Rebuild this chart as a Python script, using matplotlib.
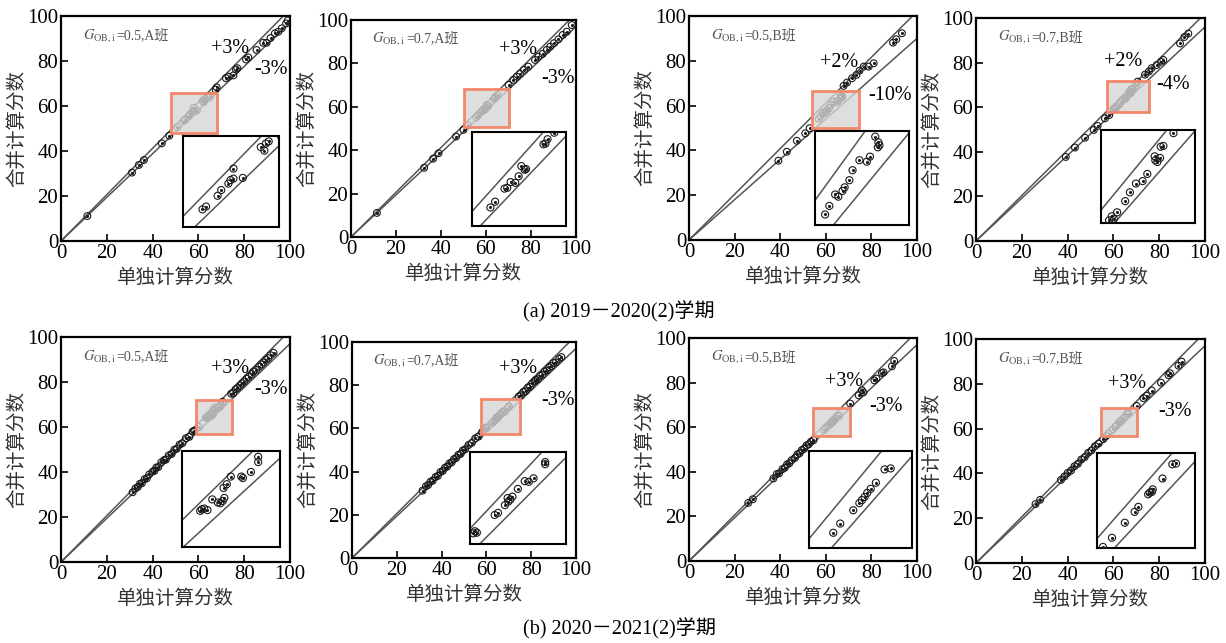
import numpy as np
import matplotlib
matplotlib.use("Agg")
import matplotlib.pyplot as plt
from matplotlib.patches import Rectangle

plt.rcParams['font.family'] = ['Liberation Serif', 'Noto Sans CJK SC']
plt.rcParams['mathtext.fontset'] = 'stix'

# ---- data ----
gob_vals = ['0.5', '0.7', '0.5', '0.7', '0.5', '0.7', '0.5', '0.7']
classes = ['A', 'A', 'B', 'B', 'A', 'A', 'B', 'B']
upper_pct = [3, 3, 2, 2, 3, 3, 3, 3]
lower_pct = [3, 3, 10, 4, 3, 3, 3, 3]
captions = ['(a) 2019－2020(2)学期', '(b) 2020－2021(2)学期']

a05A_x = [11.5, 31.0, 34.0, 36.2, 44.0, 47.3, 50.8, 53.7, 54.2, 55.8, 56.3, 57.3, 57.6, 58.0, 58.0, 59.3,
          61.8, 62.3, 62.5, 62.9, 64.6, 65.2, 67.5, 68.0, 72.0, 73.2, 75.3, 76.4, 77.0, 80.8, 81.8, 85.4,
          88.3, 89.8, 91.5, 93.4, 94.9, 96.4, 98.3, 99.0]
a05A_y = [11.1, 30.4, 33.8, 36.0, 43.4, 46.8, 50.6, 53.5, 53.9, 55.4, 56.2, 57.1, 57.6, 57.8, 59.2, 57.9,
          62.2, 61.7, 62.7, 63.0, 63.7, 64.5, 67.3, 68.3, 72.4, 73.0, 73.6, 76.2, 76.8, 80.7, 81.6, 84.9,
          88.1, 88.1, 90.2, 92.3, 93.0, 94.5, 96.7, 98.0]

a07A_x = [11.5, 32.5, 36.5, 38.9, 46.7, 50.0, 52.0, 55.7, 56.4, 57.8, 58.2, 58.7, 59.4, 59.9, 60.3, 60.8,
          61.0, 63.6, 63.9, 64.2, 65.2, 70.0, 72.2, 73.7, 75.1, 76.9, 78.8, 81.8, 83.3, 85.2, 87.0, 88.5,
          90.2, 92.2, 94.1, 95.9, 98.1]
a07A_y = [11.1, 31.9, 36.1, 38.6, 46.3, 49.4, 51.5, 55.1, 55.9, 57.7, 57.8, 58.6, 58.5, 59.4, 60.8, 60.3,
          60.4, 63.8, 63.9, 64.5, 65.4, 70.1, 72.4, 73.9, 75.2, 77.0, 78.5, 81.6, 83.1, 84.4, 86.2, 87.7,
          89.3, 91.1, 93.1, 94.6, 97.7]

a05B_x = [39.2, 42.9, 47.3, 51.0, 52.9, 56.9, 57.7, 58.8, 59.4, 60.2, 60.6, 61.5, 62.1, 63.4, 64.8, 65.4,
          66.4, 67.0, 66.9, 67.2, 67.8, 69.3, 71.5, 73.4, 74.8, 76.6, 78.8, 81.0, 89.5, 90.9, 93.4]
a05B_y = [35.4, 39.4, 44.3, 47.6, 49.9, 54.1, 55.3, 56.9, 56.6, 57.4, 57.9, 58.9, 60.3, 61.7, 61.5, 62.2,
          65.0, 64.2, 63.5, 63.8, 68.8, 70.3, 72.2, 73.7, 75.6, 77.4, 77.4, 78.9, 88.1, 89.6, 92.3]

a07B_x = [39.2, 43.2, 47.6, 51.4, 53.1, 56.3, 58.2, 60.2, 60.6, 60.9, 61.4, 62.6, 63.3, 64.2, 65.2, 65.9,
          67.0, 67.1, 67.4, 67.8, 67.9, 68.3, 69.8, 70.6, 73.8, 75.5, 76.7, 78.9, 80.8, 81.8, 89.1, 91.0, 92.7]
a07B_y = [37.7, 41.9, 46.3, 49.8, 51.6, 55.0, 56.5, 58.9, 59.4, 59.1, 59.9, 61.3, 62.4, 63.5, 63.8, 64.7,
          66.9, 66.4, 66.2, 66.7, 68.1, 68.2, 69.8, 71.5, 74.6, 76.0, 77.5, 78.9, 80.4, 81.2, 88.6, 91.5, 93.0]

b05A_x = [31.3, 32.5, 33.5, 34.5, 35.3, 36.5, 37.5, 38.5, 40.0, 40.8, 41.6, 42.5, 43.8, 45.0, 45.8, 47.0,
          48.3, 49.5, 50.5, 51.8, 53.0, 54.5, 56.0, 57.5, 58.2, 60.3,
          63.3, 63.5, 63.8, 64.2, 64.8, 65.5, 65.8, 66.1, 66.3, 66.2, 66.6, 67.1, 68.4, 68.6, 69.6, 70.5, 70.5,
          74.3, 75.2, 76.3, 77.0, 78.2, 79.0, 80.0, 81.0, 82.0, 83.3, 84.0, 85.2, 86.5, 87.5, 88.5, 89.5,
          90.5, 91.5, 92.8]
b05A_y = [31.0, 32.7, 33.3, 34.8, 35.0, 36.8, 37.2, 38.9, 40.2, 40.5, 42.0, 42.2, 44.3, 45.3, 45.5, 47.4,
          48.0, 49.9, 50.3, 52.2, 52.8, 55.0, 55.6, 58.0, 58.4, 60.0,
          64.1, 64.3, 64.4, 64.2, 65.6, 65.2, 65.1, 65.4, 65.8, 67.1, 67.6, 68.6, 68.6, 68.4, 69.2, 71.2, 70.5,
          74.8, 75.0, 76.8, 77.3, 78.5, 79.4, 80.2, 81.5, 82.3, 83.5, 84.6, 85.4, 86.8, 87.8, 88.7, 89.9,
          90.6, 91.9, 93.0]

b07A_x = [31.5, 33.0, 34.0, 35.0, 36.0, 37.3, 38.3, 39.5, 40.5, 41.5, 42.5, 43.5, 44.5, 45.5, 46.5, 47.5,
          48.5, 49.5, 50.5, 52.0, 53.5, 55.0, 56.5, 58.0,
          59.5, 59.7, 60.0, 62.6, 63.1, 64.1, 64.6, 64.5, 64.9, 65.2, 66.0, 67.0, 67.6, 68.3, 70.0, 70.0,
          74.5, 75.5, 76.5, 77.5, 78.5, 79.5, 80.5, 81.5, 82.0, 83.0, 84.0, 85.0, 86.0, 87.0, 88.0, 89.0,
          90.0, 91.0, 92.5, 93.5]
b07A_y = [31.2, 33.2, 33.8, 35.3, 35.8, 37.5, 38.0, 39.8, 40.3, 41.8, 42.3, 43.8, 44.3, 45.8, 46.3, 47.8,
          48.2, 49.8, 50.3, 52.3, 53.3, 55.4, 56.2, 58.2,
          60.1, 60.4, 60.2, 62.7, 63.0, 64.1, 64.6, 65.1, 64.9, 65.3, 66.4, 67.5, 67.4, 67.9, 69.9, 70.2,
          74.8, 75.3, 76.9, 77.2, 78.9, 79.2, 80.9, 81.8, 82.5, 82.8, 84.4, 84.8, 86.4, 86.8, 88.3, 88.8,
          90.3, 90.6, 92.2, 93.0]

b05B_x = [26.0, 28.0, 37.0, 38.5, 39.5, 41.0, 42.0, 43.0, 44.0, 45.0, 46.5, 47.5, 48.5, 49.5, 50.5, 51.5,
          52.5, 53.5, 54.6, 59.3, 60.1, 61.6, 62.3, 62.6, 62.9, 63.2, 63.6, 64.2, 65.2, 65.9,
          70.7, 74.4, 75.8, 76.5, 81.3, 82.2, 84.6, 85.3, 89.0, 90.0]
b05B_y = [26.1, 27.7, 37.0, 39.0, 39.3, 41.2, 41.8, 43.3, 43.8, 45.2, 46.3, 47.8, 48.3, 49.8, 50.3, 51.8,
          52.3, 53.5, 54.2, 58.8, 59.7, 61.0, 61.7, 62.0, 62.3, 62.7, 63.1, 63.7, 65.0, 65.1,
          70.6, 74.3, 76.6, 75.6, 81.0, 81.8, 84.3, 84.6, 87.3, 89.7]

b07B_x = [26.0, 28.0, 37.1, 38.6, 40.0, 41.5, 43.0, 44.5, 46.0, 47.5, 49.0, 50.5, 52.0, 53.5, 55.6,
          56.8, 58.0, 59.7, 61.0, 61.5, 62.8, 63.0, 63.3, 63.4, 64.7, 66.0, 66.5,
          70.2, 73.1, 74.5, 76.7, 80.8, 84.0, 84.7, 88.4, 89.8]
b07B_y = [26.3, 28.2, 37.1, 38.6, 40.2, 41.3, 43.2, 44.3, 46.2, 47.3, 49.2, 50.3, 52.2, 53.3, 55.3,
          56.7, 57.8, 59.6, 60.9, 61.5, 63.0, 63.2, 63.3, 63.6, 64.9, 66.6, 66.7,
          70.1, 73.6, 74.7, 77.0, 80.5, 83.9, 84.7, 88.1, 89.9]

series_x = [a05A_x, a07A_x, a05B_x, a07B_x, b05A_x, b07A_x, b05B_x, b07B_x]
series_y = [a05A_y, a07A_y, a05B_y, a07B_y, b05A_y, b07A_y, b05B_y, b07B_y]

# ---- layout (pixels of a 1226x643 canvas) ----
W, H = 1226, 643
axes_px = [(61, 16, 290, 241), (351, 20, 576, 237), (689, 16, 917, 240), (976, 18, 1205, 241),
           (61, 337, 290, 562), (352, 342, 576, 558), (689, 338, 917, 561), (976, 339, 1205, 563)]
inset_box = [(0.533, 0.061, 0.418, 0.404), (0.539, 0.049, 0.418, 0.435), (0.553, 0.066, 0.412, 0.421),
             (0.546, 0.082, 0.410, 0.416), (0.527, 0.068, 0.429, 0.427), (0.527, 0.065, 0.427, 0.425),
             (0.526, 0.058, 0.450, 0.435), (0.528, 0.068, 0.428, 0.421)]
inset_win = [((51, 64.3), (51, 63.7)), ((53, 67), (52.5, 65.5)), ((55, 72.8), (52.6, 65.8)),
             ((59, 73), (58.6, 70.2)), ((61, 73.2), (59.4, 72)), ((59, 73), (58.6, 71.6)),
             ((56.5, 68.3), (57.3, 66.8)), ((56, 69), (56.6, 67.9))]
rects = [(48, 48, 20, 18), (50, 50.5, 20, 17.5), (53.9, 50.1, 20.5, 16.6), (57.1, 57.7, 18.6, 14),
         (59, 56.8, 15.5, 15.3), (57.8, 57.4, 17.2, 16.4), (54.2, 56, 16.2, 12.7), (54.6, 56.7, 15.6, 12.4)]
up_pos = [(73.8, 85.6), (74.4, 86.2), (66, 79.2), (64.3, 80.4), (73.8, 86.2), (74.2, 87.7), (67.8, 80.3), (65.8, 80.2)]
lo_pos = [(91.6, 76), (92.2, 73.2), (88.3, 64.6), (86.2, 70), (91.6, 76.5), (92.1, 73.1), (86.5, 69.1), (86.9, 67.6)]

LINE_C = '#555555'
PT_C = '#1a1a1a'


def draw_points(a, x, y, s=24):
    a.scatter(x, y, s=s, facecolors='none', edgecolors=PT_C, linewidths=0.8, zorder=3)
    a.scatter(x, y, s=1.5, color=PT_C, zorder=4)


def draw_lines(a, up, lo):
    xs = np.array([0, 100])
    a.plot(xs, xs * (1 + up / 100), color=LINE_C, lw=1.1, zorder=2)
    a.plot(xs, xs * (1 - lo / 100), color=LINE_C, lw=1.1, zorder=2)


fig = plt.figure(figsize=(12.26, 6.43), dpi=100)

for i in range(8):
    l, t, r, b = axes_px[i]
    ax = fig.add_axes([l / W, 1 - b / H, (r - l) / W, (b - t) / H])
    ax.set_xlim(0, 100)
    ax.set_ylim(0, 100)
    up, lo = upper_pct[i], lower_pct[i]
    draw_lines(ax, up, lo)
    draw_points(ax, series_x[i], series_y[i])

    rx, ry, rw, rh = rects[i]
    ax.add_patch(Rectangle((rx, ry), rw, rh, facecolor=(0.84, 0.84, 0.84, 0.8),
                           edgecolor='#f2876b', lw=2, zorder=5))

    ax.text(*up_pos[i], f'+{up}%', fontsize=14.5, ha='center', va='center', zorder=6)
    ax.text(*lo_pos[i], f'-{lo}%', fontsize=14.5, ha='center', va='center', zorder=6)
    g = ax.text(9.5, 91.5, r'$G_{\rm OB,i}$', fontsize=10.5, color='#555555', ha='left', va='center')
    ax.annotate(f'={gob_vals[i]},{classes[i]}班', xy=(1, 0.5), xycoords=g, fontsize=10,
                color='#555555', ha='left', va='center')

    ax.set_xticks(range(0, 101, 20))
    ax.set_yticks(range(0, 101, 20))
    ax.tick_params(direction='in', length=5, width=1.2, labelsize=15, top=False, right=False, pad=2)
    for sp in ax.spines.values():
        sp.set_linewidth(1.6)
    ax.set_xlabel('单独计算分数', fontsize=14, labelpad=4, color='#333333')
    ax.set_ylabel('合并计算分数', fontsize=14, labelpad=1, color='#333333')

    ins = ax.inset_axes(inset_box[i])
    ins.set_zorder(7)
    (x0, x1), (y0, y1) = inset_win[i]
    ins.set_xlim(x0, x1)
    ins.set_ylim(y0, y1)
    draw_lines(ins, up, lo)
    draw_points(ins, series_x[i], series_y[i], s=26)
    ins.set_xticks([])
    ins.set_yticks([])
    for sp in ins.spines.values():
        sp.set_linewidth(1.5)

fig.text(619 / W, 1 - 312 / H, captions[0], fontsize=14.5, ha='center', va='center')
fig.text(619 / W, 1 - 629 / H, captions[1], fontsize=14.5, ha='center', va='center')

fig.savefig('out.png', dpi=100, facecolor='white')
